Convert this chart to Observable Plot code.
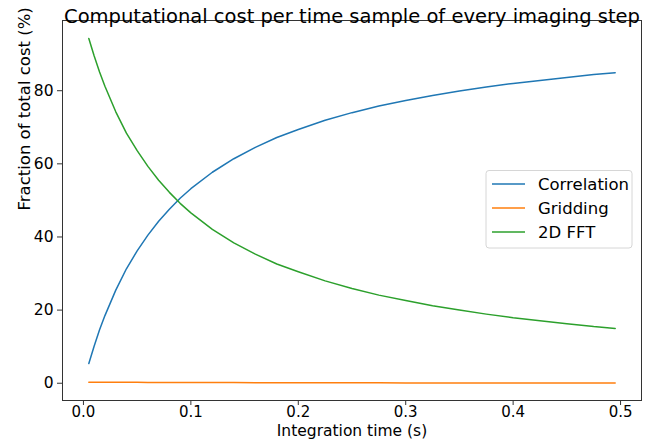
<!DOCTYPE html>
<html>
<head>
<meta charset="utf-8">
<script src="https://cdn.jsdelivr.net/npm/d3@7"></script>
<script src="https://cdn.jsdelivr.net/npm/@observablehq/plot@0.6"></script>
<style>
  html, body { margin: 0; padding: 0; background: #fff; }
  #chart { width: 665px; height: 445px; }
</style>
</head>
<body>
<div id="chart"></div>
<script>
const title = "Computational cost per time sample of every imaging step";
const xLabel = "Integration time (s)";
const yLabel = "Fraction of total cost (%)";
const seriesNames = ["Correlation", "Gridding", "2D FFT"];
const seriesColors = ["#1f77b4", "#ff7f0e", "#2ca02c"];
const xTicks = [0, 0.1, 0.2, 0.3, 0.4, 0.5];
const yTicks = [0, 20, 40, 60, 80];

const time = [0.005, 0.01, 0.015, 0.02, 0.03, 0.04, 0.05, 0.06, 0.07, 0.08, 0.09, 0.10,
  0.12, 0.14, 0.16, 0.18, 0.20, 0.225, 0.25, 0.275, 0.30, 0.325, 0.35, 0.375, 0.40,
  0.425, 0.45, 0.475, 0.495];
const correlation = [5.4, 10.2, 14.6, 18.5, 25.4, 31.3, 36.2, 40.5, 44.3, 47.6, 50.6, 53.2,
  57.7, 61.4, 64.5, 67.2, 69.4, 71.9, 74.0, 75.8, 77.3, 78.7, 79.9, 81.0, 82.0,
  82.8, 83.6, 84.4, 84.9];
const gridding = [0.30, 0.29, 0.28, 0.27, 0.26, 0.25, 0.24, 0.23, 0.22, 0.21, 0.20, 0.19,
  0.18, 0.17, 0.16, 0.15, 0.14, 0.13, 0.12, 0.11, 0.10, 0.09, 0.09, 0.08, 0.08,
  0.07, 0.07, 0.06, 0.06];
const fft = [94.3, 89.5, 85.1, 81.2, 74.3, 68.4, 63.6, 59.3, 55.5, 52.2, 49.2, 46.6,
  42.1, 38.4, 35.3, 32.6, 30.5, 28.0, 25.9, 24.1, 22.6, 21.2, 20.0, 18.9, 17.9,
  17.1, 16.3, 15.5, 15.0];

const seriesValues = [correlation, gridding, fft];
const rows = [];
seriesNames.forEach((name, k) => {
  time.forEach((t, i) => rows.push({series: name, t, v: seriesValues[k][i]}));
});

const font = "DejaVu Sans, sans-serif";

const chart = Plot.plot({
  width: 665,
  height: 445,
  marginLeft: 62,
  marginRight: 24,
  marginTop: 20,
  marginBottom: 45,
  style: {fontFamily: font, background: "#fff", color: "#000", overflow: "visible"},
  x: {domain: [-0.0195, 0.5195]},
  y: {domain: [-4.72, 99.2]},
  color: {domain: seriesNames, range: seriesColors},
  marks: [
    Plot.axisX({ticks: xTicks, tickFormat: d3.format(".1f"), tickSize: 5, tickPadding: 1,
      fontSize: 15, label: null, stroke: "#333"}),
    Plot.axisY({ticks: yTicks, tickFormat: d3.format("d"), tickSize: 5, tickPadding: 4,
      fontSize: 15.5, label: null, stroke: "#333"}),
    Plot.line(rows, {x: "t", y: "v", z: "series", stroke: "series", strokeWidth: 1.5}),
    Plot.frame({stroke: "#333", strokeWidth: 1}),
    Plot.text([title], {frameAnchor: "top", dy: -11, fontSize: 19.5, fill: "#000"}),
    Plot.text([xLabel], {frameAnchor: "bottom", dy: 35, fontSize: 15.5, fill: "#000"}),
    Plot.text([yLabel], {frameAnchor: "left", dx: -38, rotate: -90, fontSize: 16.5, fill: "#000"})
  ]
});

document.getElementById("chart").appendChild(chart);

// Legend (matplotlib-style box)
const svg = d3.select(chart);
const lg = svg.append("g").attr("font-family", font).attr("font-size", 16.5).attr("text-anchor", "start");
lg.append("rect").attr("x", 486).attr("y", 170.5).attr("width", 146).attr("height", 77.5)
  .attr("rx", 3).attr("fill", "#fff").attr("fill-opacity", 0.8).attr("stroke", "#d6d6d6");
seriesNames.forEach((name, i) => {
  const yy = 184 + i * 24;
  lg.append("line").attr("x1", 492).attr("x2", 525).attr("y1", yy).attr("y2", yy)
    .attr("stroke", seriesColors[i]).attr("stroke-width", 1.5);
  lg.append("text").attr("x", 538).attr("y", yy).attr("dy", "0.35em")
    .attr("text-anchor", "start").attr("fill", "#000").text(name);
});
</script>
</body>
</html>
